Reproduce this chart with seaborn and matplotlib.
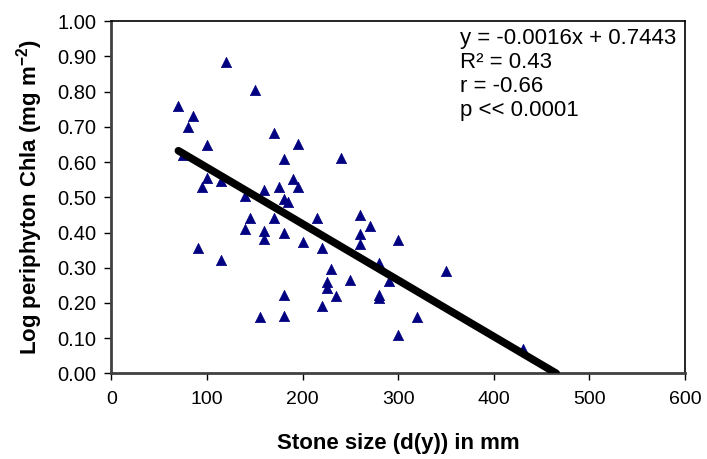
import matplotlib
matplotlib.use("Agg")
import matplotlib.pyplot as plt
import seaborn as sns
import pandas as pd
import numpy as np

# Stone size d(y) in mm and log periphyton chlorophyll a
stone_size = [70, 75, 80, 85, 90, 95, 100, 100, 115, 115, 120, 140, 140, 145,
              150, 155, 160, 160, 160, 170, 170, 175, 180, 180, 180, 180, 180,
              185, 190, 195, 195, 200, 215, 220, 220, 225, 225, 230, 235, 240,
              250, 260, 260, 260, 270, 280, 280, 280, 290, 300, 300, 320, 350, 430]
log_chla = [0.760, 0.620, 0.700, 0.730, 0.355, 0.528, 0.650, 0.554, 0.545, 0.322,
            0.885, 0.504, 0.410, 0.440, 0.805, 0.159, 0.521, 0.405, 0.381, 0.683,
            0.440, 0.530, 0.609, 0.496, 0.400, 0.222, 0.164, 0.487, 0.553, 0.651,
            0.528, 0.373, 0.441, 0.357, 0.190, 0.258, 0.243, 0.295, 0.220, 0.611,
            0.265, 0.451, 0.396, 0.367, 0.418, 0.312, 0.222, 0.213, 0.262, 0.379,
            0.109, 0.160, 0.290, 0.069]

# Linear fit reported on the chart
slope = -0.0016
intercept = 0.7443
stats_lines = ["y = -0.0016x + 0.7443", "R² = 0.43", "r = -0.66", "p << 0.0001"]

x_ticks = [0, 100, 200, 300, 400, 500, 600]
y_ticks = [0.0, 0.1, 0.2, 0.3, 0.4, 0.5, 0.6, 0.7, 0.8, 0.9, 1.0]

sns.set_style("ticks")
plt.rcParams["font.family"] = ["Liberation Sans", "DejaVu Sans"]
plt.rcParams["mathtext.fontset"] = "custom"
plt.rcParams["mathtext.rm"] = "Liberation Sans"
plt.rcParams["mathtext.bf"] = "Liberation Sans:bold"
plt.rcParams["text.color"] = "black"
plt.rcParams["axes.labelcolor"] = "black"

df = pd.DataFrame({"size": stone_size, "chla": log_chla})

fig = plt.figure(figsize=(7.07, 4.59), dpi=100)
ax = fig.add_axes([0.1577, 0.1867, 0.8113, 0.7669])

sns.scatterplot(data=df, x="size", y="chla", marker="^", color="#000080",
                edgecolor="#000080", linewidth=0.5, s=55, ax=ax, zorder=3)

# Regression line from the smallest stone to where it meets zero
x_line = np.array([min(stone_size), -intercept / slope])
ax.plot(x_line, slope * x_line + intercept, color="black", lw=5.5,
        solid_capstyle="round", zorder=4)

ax.set_xlim(0, 600)
ax.set_ylim(0, 1.0)
ax.set_xticks(x_ticks)
ax.set_yticks(y_ticks)
ax.set_yticklabels([f"{v:.2f}" for v in y_ticks])
ax.tick_params(axis="both", labelsize=14, length=5, width=1, colors="black",
               direction="out")
ax.tick_params(axis="x", pad=8)
ax.tick_params(axis="y", pad=6, labelsize=14.5)

for side in ["top", "right"]:
    ax.spines[side].set_visible(True)
    ax.spines[side].set_color("black")
    ax.spines[side].set_linewidth(1.2)
for side in ["left", "bottom"]:
    ax.spines[side].set_color("#404040")
    ax.spines[side].set_linewidth(2)

ax.set_xlabel("Stone size (d(y)) in mm", fontsize=16, fontweight="bold",
              labelpad=18, color="black")
ax.set_ylabel(r"Log periphyton Chla (mg m$^{\mathbf{-2}}$)", fontsize=16,
              fontweight="bold", labelpad=9, color="black")

for i, line in enumerate(stats_lines):
    ax.text(0.607, 0.952 - i * 0.068, line, transform=ax.transAxes, fontsize=16,
            va="center", ha="left", color="black")

fig.savefig("out.png", dpi=100, facecolor="white")
